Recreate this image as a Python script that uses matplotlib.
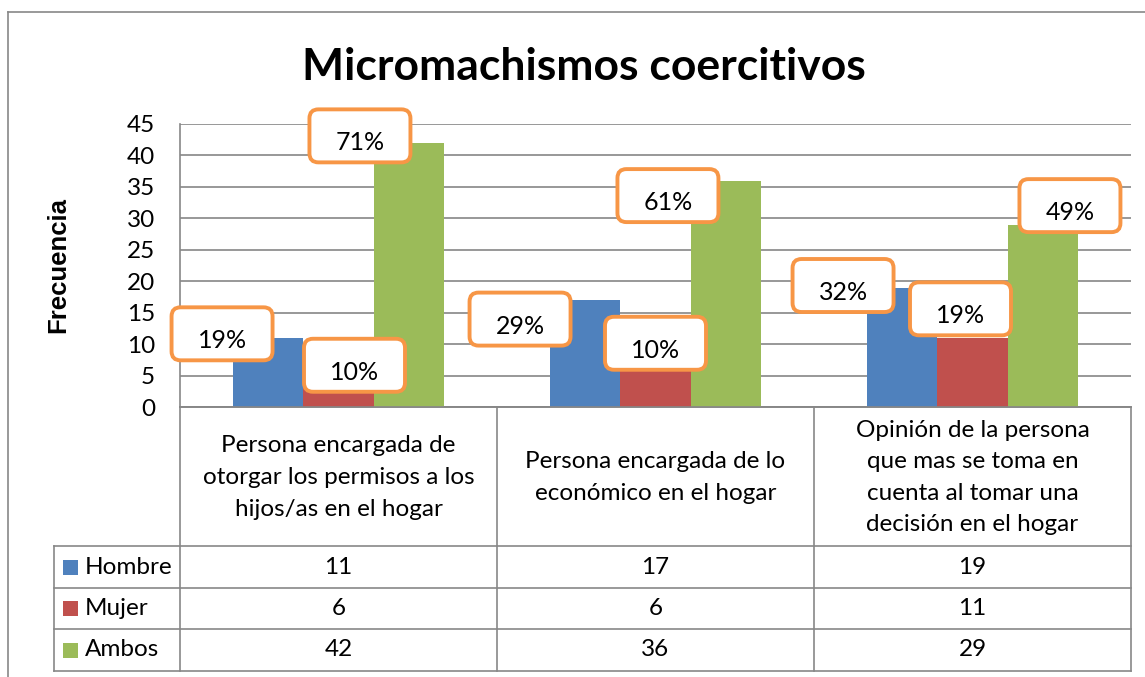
import numpy as np
import matplotlib
matplotlib.use("Agg")
import matplotlib.pyplot as plt
import matplotlib.transforms as mtransforms
from matplotlib.patches import FancyBboxPatch, Rectangle
from matplotlib.lines import Line2D

# Data
categories = ["Persona encargada de\notorgar los permisos a los\nhijos/as en el hogar",
              "Persona encargada de lo\neconómico en el hogar",
              "Opinión de la persona\nque mas se toma en\ncuenta al tomar una\ndecisión en el hogar"]
series_names = ["Hombre", "Mujer", "Ambos"]
hombre = [11, 17, 19]
mujer = [6, 6, 11]
ambos = [42, 36, 29]
title = "Micromachismos coercitivos"
ylabel = "Frecuencia"

colours = ["#4F81BD", "#C0504D", "#9BBB59"]
orange = "#F79646"
grey = "#878787"

# label box offsets from bar tops, in pixels (dx, dy)
label_offsets = [[(-46, 4), (-65, -19), (-59, 2)],
                 [(16, 4), (0, 26), (-12, 29)],
                 [(-49, 7), (-58, -15), (27, 19)]]

plt.rcParams['font.family'] = ['Lato', 'DejaVu Sans']

W, H = 1145, 677
fig = plt.figure(figsize=(W / 100, H / 100), dpi=100)

# pixel layout of the plot area
left, right, top, bottom = 180, 1131, 124, 407
ax = fig.add_axes([left / W, 1 - bottom / H, (right - left) / W, (bottom - top) / H])

values = [hombre, mujer, ambos]
x = np.arange(len(categories))
width = 1 / 4.5
offsets = [-width, 0, width]

for vals, off, col in zip(values, offsets, colours):
    ax.bar(x + off, vals, width, color=col, linewidth=0, zorder=3)

ax.set_xlim(-0.5, 2.5)
ax.set_ylim(0, 45)
ax.set_yticks(range(0, 46, 5))
ax.set_xticks([])
ax.yaxis.grid(True, color="#868686", linewidth=1.2)
ax.set_axisbelow(True)
for s in ['top', 'right']:
    ax.spines[s].set_visible(False)
for s in ['left', 'bottom']:
    ax.spines[s].set_color(grey)
    ax.spines[s].set_linewidth(1.2)
ax.tick_params(axis='y', length=0, pad=18, labelsize=17.5)

# percentage labels in orange rounded boxes
totals = [h + m + a for h, m, a in zip(hombre, mujer, ambos)]
bw, bh = 1.01, 0.53
for si, (vals, off) in enumerate(zip(values, offsets)):
    for ci, v in enumerate(vals):
        pct = "{}%".format(int(round(v / totals[ci] * 100)))
        dx, dy = label_offsets[si][ci]
        trans = fig.dpi_scale_trans + mtransforms.ScaledTranslation(ci + off, v, ax.transData)
        box = FancyBboxPatch((dx / 100 - bw / 2, dy / 100 - bh / 2), bw, bh,
                             boxstyle="round,pad=0,rounding_size=0.09",
                             transform=trans, facecolor="white", edgecolor=orange,
                             linewidth=2.8, zorder=5, clip_on=False)
        ax.add_patch(box)
        ax.text(dx / 100, dy / 100 - 0.07, pct, transform=trans, ha='center', va='center',
                fontsize=18, zorder=6)

# overlay in pixel coordinates for the data table and frame
ov = fig.add_axes([0, 0, 1, 1])
ov.set_xlim(0, W)
ov.set_ylim(H, 0)
ov.axis('off')
ov.patch.set_visible(False)

def hline(y, x0, x1, **kw):
    ov.add_line(Line2D([x0, x1], [y, y], color=grey, linewidth=1.2, **kw))

def vline(xx, y0, y1, **kw):
    ov.add_line(Line2D([xx, xx], [y0, y1], color=grey, linewidth=1.2, **kw))

# chart frame
hline(12, 8, W)
vline(8, 12, H)

cols = [left + (right - left) * i / 3 for i in range(4)]
rows = [546, 588, 629, 671]
for c in cols:
    vline(c, bottom, rows[-1])
vline(54, rows[0], rows[-1])
hline(bottom, left, right)
for r in rows:
    hline(r, 54, right)

for i, cat in enumerate(categories):
    ov.text((cols[i] + cols[i + 1]) / 2, (bottom + rows[0]) / 2 + 1, cat,
            ha='center', va='center', fontsize=17.5, linespacing=1.62)

for ri, (name, vals, col) in enumerate(zip(series_names, values, colours)):
    yc = (rows[ri] + rows[ri + 1]) / 2
    ov.add_patch(Rectangle((63, yc - 7.5), 15, 15, facecolor=col, edgecolor='none'))
    ov.text(85, yc, name, ha='left', va='center', fontsize=17.5)
    for ci, v in enumerate(vals):
        ov.text((cols[ci] + cols[ci + 1]) / 2, yc, str(v), ha='center', va='center',
                fontsize=17.5)

# title and axis label
ov.text(584, 80, title, ha='center', va='baseline', fontsize=32, fontweight='bold')
ov.text(58, 265, ylabel, ha='center', va='center', rotation=90, fontsize=18.5,
        fontweight='bold', family=['Liberation Sans', 'DejaVu Sans'])

fig.savefig("out.png", dpi=100)
